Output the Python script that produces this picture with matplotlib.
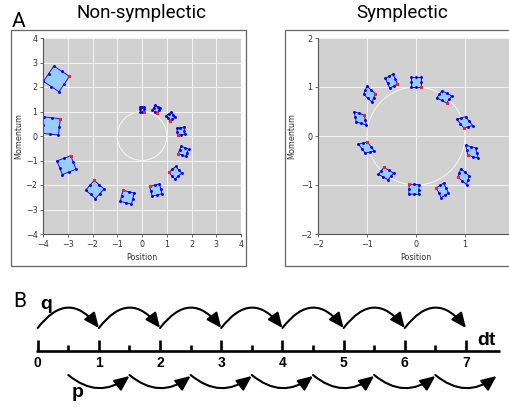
import matplotlib
matplotlib.use('Agg')
import matplotlib.pyplot as plt
from matplotlib.patches import Circle, Rectangle, FancyArrowPatch
import numpy as np

W, H = 509, 408

# ---------------- data: corners of each square of initial conditions ----------
# order of corners: [red marked corner, next, opposite, last]
ns_q = [
    [0.100, 0.100, -0.100, -0.100],
    [0.624, 0.728, 0.528, 0.424],
    [1.120, 1.329, 1.184, 0.975],
    [1.445, 1.730, 1.695, 1.410],
    [1.463, 1.767, 1.881, 1.577],
    [1.085, 1.330, 1.603, 1.358],
    [0.306, 0.408, 0.809, 0.707],
    [-0.770, -0.879, -0.425, -0.316],
    [-1.931, -2.277, -1.880, -1.534],
    [-2.880, -3.435, -3.219, -2.665],
    [-3.300, -3.968, -4.042, -3.375],
    [-2.931, -3.559, -3.983, -3.355],
]
ns_p = [
    [1.000, 1.200, 1.200, 1.000],
    [0.948, 1.148, 1.252, 1.052],
    [0.621, 0.766, 0.976, 0.831],
    [0.035, 0.070, 0.356, 0.320],
    [-0.722, -0.836, -0.532, -0.418],
    [-1.488, -1.761, -1.517, -1.244],
    [-2.056, -2.457, -2.356, -1.955],
    [-2.217, -2.671, -2.779, -2.325],
    [-1.813, -2.210, -2.557, -2.160],
    [-0.802, -1.018, -1.572, -1.357],
    [0.706, 0.781, 0.113, 0.039],
    [2.434, 2.858, 2.230, 1.806],
]
sy_q = [
    [0.100, 0.100, -0.100, -0.100],
    [0.624, 0.728, 0.528, 0.424],
    [0.976, 1.157, 1.012, 0.831],
    [1.061, 1.268, 1.218, 1.011],
    [0.855, 1.032, 1.090, 0.913],
    [0.415, 0.513, 0.663, 0.565],
    [-0.139, -0.147, 0.055, 0.063],
    [-0.655, -0.767, -0.569, -0.457],
    [-0.992, -1.176, -1.036, -0.852],
    [-1.056, -1.263, -1.220, -1.013],
    [-0.831, -1.004, -1.069, -0.896],
    [-0.378, -0.469, -0.625, -0.534],
]
sy_p = [
    [1.000, 1.200, 1.200, 1.000],
    [0.673, 0.819, 0.923, 0.778],
    [0.162, 0.213, 0.394, 0.343],
    [-0.393, -0.451, -0.244, -0.186],
    [-0.841, -0.992, -0.815, -0.664],
    [-1.058, -1.260, -1.162, -0.960],
    [-0.985, -1.183, -1.191, -0.993],
    [-0.642, -0.782, -0.893, -0.754],
    [-0.123, -0.166, -0.351, -0.307],
    [0.430, 0.495, 0.288, 0.223],
    [0.865, 1.021, 0.848, 0.692],
    [1.063, 1.266, 1.175, 0.972],
]
exact_radius = 1.0
ns_ticks = [-4, -3, -2, -1, 0, 1, 2, 3, 4]
sy_yticks = [-2, -1, 0, 1, 2]
sy_xticks = [-2, -1, 0, 1]   # the tick at 2 lies beyond the cropped edge

# panel B data
time_ticks = [0, 1, 2, 3, 4, 5, 6, 7]
half_ticks = [0.5, 1.5, 2.5, 3.5, 4.5, 5.5, 6.5]
q_steps = [0, 1, 2, 3, 4, 5, 6]
p_steps = [0.5, 1.5, 2.5, 3.5, 4.5, 5.5, 6.5]
step = 1.0

fig = plt.figure(figsize=(W / 100, H / 100), dpi=100)


def draw_panel(ax, qs, ps, lim, xticks, yticks):
    ax.set_facecolor('#d1d1d1')
    ax.set_xlim(-lim, lim)
    ax.set_ylim(-lim, lim)
    ax.set_xticks(xticks)
    ax.set_yticks(yticks)
    ax.grid(True, color='white', lw=0.6, alpha=0.9)
    ax.set_axisbelow(True)
    for s in ['top', 'right']:
        ax.spines[s].set_visible(False)
    for s in ['left', 'bottom']:
        ax.spines[s].set_color('#555555')
        ax.spines[s].set_linewidth(0.8)
    ax.tick_params(length=2.5, width=0.6, pad=1.5, labelsize=5.8,
                   colors='#555555', labelcolor='#333333')
    ax.add_patch(Circle((0, 0), exact_radius, fill=False, ec='#f2f2f2', lw=0.8))
    for q, p in zip(qs, ps):
        q = np.asarray(q)
        p = np.asarray(p)
        ax.fill(q, p, facecolor='#99ccff', edgecolor='#1010ff', lw=0.7)
        qm = (q + np.roll(q, -1)) / 2
        pm = (p + np.roll(p, -1)) / 2
        ax.plot(np.r_[q, qm], np.r_[p, pm], 'o', color='#0000ee', ms=2.1, mew=0)
        ax.plot(q[0], p[0], 'o', color='#ff2020', ms=2.4, mew=0)
    ax.set_xlabel('Position', fontsize=5.8, color='#333333')
    ax.set_ylabel('Momentum', fontsize=5.8, color='#333333')


axL = fig.add_axes([43 / W, (H - 234) / H, 198 / W, 196 / H])
draw_panel(axL, ns_q, ns_p, 4, ns_ticks, ns_ticks)
axL.xaxis.set_label_coords(0.5, -0.095)
axL.yaxis.set_label_coords(-0.10, 0.5)

axR = fig.add_axes([318 / W, (H - 234) / H, 196 / W, 196 / H])
draw_panel(axR, sy_q, sy_p, 2, sy_xticks, sy_yticks)
axR.xaxis.set_label_coords(0.5, -0.095)
axR.yaxis.set_label_coords(-0.11, 0.5)
axR.axvline(2, color='white', lw=0.6, alpha=0.9, zorder=0.5)

# boxes around panels
fig.add_artist(Rectangle((11 / W, (H - 266) / H), 235 / W, 236 / H,
                         transform=fig.transFigure, fill=False, ec='#666666', lw=0.9))
fig.add_artist(Rectangle((285 / W, (H - 266) / H), 300 / W, 236 / H,
                         transform=fig.transFigure, fill=False, ec='#666666', lw=0.9))

fig.text(142 / W, 1 - 18.5 / H, 'Non-symplectic', ha='center', va='baseline',
         fontsize=13.5, family='Roboto')
fig.text(402 / W, 1 - 18.5 / H, 'Symplectic', ha='center', va='baseline',
         fontsize=13.5, family='Roboto')
fig.text(12 / W, 1 - 27 / H, 'A', ha='left', va='baseline', fontsize=15, family='Roboto')

# ---------------- panel B ----------------
x0_px, unit_px = 37.7, 61.18
axB = fig.add_axes([0, 0, 1, 128 / H])
axB.set_xlim(-x0_px / unit_px, (W - x0_px) / unit_px)
axB.set_ylim(128, 0)
axB.axis('off')

line_y = 71
axB.plot([-0.03, 7.56], [line_y, line_y], color='black', lw=1.9, solid_capstyle='butt')
axB.vlines(time_ticks, line_y - 11, line_y, color='black', lw=1.9)
axB.vlines(half_ticks, line_y - 6, line_y, color='black', lw=1.9)
for t in time_ticks:
    axB.text(t, 83, str(t), ha='center', va='center', fontsize=10,
             fontweight='bold', family='Liberation Sans')

astyle = '-|>,head_length=0.75,head_width=0.33'
for t in q_steps:
    axB.add_patch(FancyArrowPatch((t, 48), (t + step, 48),
                                  connectionstyle='arc3,rad=-0.65', arrowstyle=astyle,
                                  mutation_scale=12, lw=1.5, color='black',
                                  shrinkA=0, shrinkB=0))
for t in p_steps:
    axB.add_patch(FancyArrowPatch((t, 95), (t + step, 96),
                                  connectionstyle='arc3,rad=0.40', arrowstyle=astyle,
                                  mutation_scale=12, lw=1.5, color='black',
                                  shrinkA=0, shrinkB=0))

axB.text((13 - x0_px) / unit_px, 27, 'B', ha='left', va='baseline', fontsize=15, family='Roboto')
axB.text((40 - x0_px) / unit_px, 29, 'q', ha='left', va='baseline', fontsize=14,
         fontweight='bold', family='Liberation Sans')
axB.text((72 - x0_px) / unit_px, 117, 'p', ha='left', va='baseline', fontsize=14,
         fontweight='bold', family='Liberation Sans')
axB.text((477 - x0_px) / unit_px, 65, 'dt', ha='left', va='baseline', fontsize=14,
         fontweight='bold', family='Liberation Sans')

fig.savefig('out.png', dpi=100)
